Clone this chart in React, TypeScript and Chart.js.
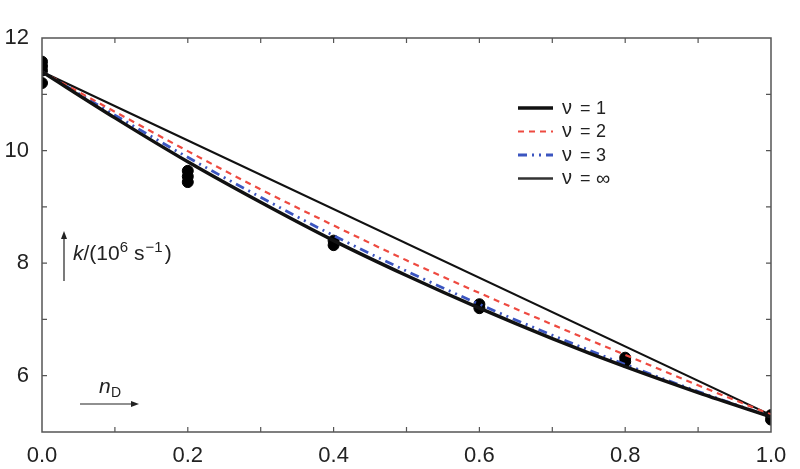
import React, { useEffect, useRef } from "react";
import { Chart, registerables } from "chart.js";

Chart.register(...registerables);

const xGrid = [0, 0.1, 0.2, 0.3, 0.4, 0.5, 0.6, 0.7, 0.8, 0.9, 1.0];
const nu1 = [11.4, 10.58, 9.8, 9.08, 8.4, 7.78, 7.2, 6.66, 6.16, 5.7, 5.27];
const nu2 = [11.4, 10.69, 9.99, 9.31, 8.67, 8.05, 7.47, 6.91, 6.37, 5.83, 5.31];
const nu3 = [11.4, 10.63, 9.88, 9.17, 8.49, 7.86, 7.27, 6.72, 6.2, 5.72, 5.27];
const nuInfX = [0, 1];
const nuInf = [11.4, 5.3];

const expX = [0, 0, 0, 0, 0.2, 0.2, 0.2, 0.4, 0.4, 0.6, 0.6, 0.8, 0.8, 1.0, 1.0];
const expY = [11.58, 11.5, 11.42, 11.2, 9.64, 9.54, 9.44, 8.4, 8.32, 7.27, 7.2, 6.32, 6.25, 5.3, 5.22];

const xTickLabels = ["0.0", "0.2", "0.4", "0.6", "0.8", "1.0"];
const yTickLabels = ["6", "8", "10", "12"];
const legendValues = ["1", "2", "3", "\u221e"];

const FONT = "'Liberation Sans', Arial, Helvetica, sans-serif";

const pts = (xs: number[], ys: number[]) => xs.map((x, i) => ({ x, y: ys[i] }));

const decorPlugin = {
  id: "decor",
  afterDraw(chart: any) {
    const ctx = chart.ctx;
    const { left, right, top, bottom } = chart.chartArea;
    const xs = chart.scales.x;
    const ys = chart.scales.y;
    ctx.save();
    // frame
    ctx.strokeStyle = "#555";
    ctx.lineWidth = 1.5;
    ctx.strokeRect(left, top, right - left, bottom - top);
    // inward ticks
    ctx.lineWidth = 1.2;
    ctx.beginPath();
    for (let i = 1; i < 10; i++) {
      const px = xs.getPixelForValue(i / 10);
      ctx.moveTo(px, bottom);
      ctx.lineTo(px, bottom - 5);
      ctx.moveTo(px, top);
      ctx.lineTo(px, top + 5);
    }
    for (let v = 6; v <= 11; v++) {
      const py = ys.getPixelForValue(v);
      ctx.moveTo(left, py);
      ctx.lineTo(left + 5, py);
      ctx.moveTo(right, py);
      ctx.lineTo(right - 5, py);
    }
    ctx.stroke();

    // legend
    const styles = [
      { color: "#111", width: 3.4, dash: [] as number[] },
      { color: "#ee4a40", width: 2.2, dash: [6, 5] },
      { color: "#3b55c0", width: 2.8, dash: [9, 5, 2, 5, 2, 5] },
      { color: "#333", width: 2.4, dash: [] as number[] },
    ];
    const lx0 = 518, lx1 = 553, ly0 = 108, dy = 23.5;
    ctx.textBaseline = "middle";
    legendValues.forEach((val, i) => {
      const y = ly0 + i * dy;
      const s = styles[i];
      ctx.strokeStyle = s.color;
      ctx.lineWidth = s.width;
      ctx.setLineDash(s.dash);
      ctx.beginPath();
      ctx.moveTo(lx0, y);
      ctx.lineTo(lx1, y);
      ctx.stroke();
      ctx.setLineDash([]);
      ctx.fillStyle = "#222";
      ctx.font = `20px ${FONT}`;
      ctx.fillText("\u03bd", 562, y);
      ctx.font = `18px ${FONT}`;
      ctx.fillText("=", 580, y + 1);
      ctx.font = (val === "\u221e" ? "20px " : "18px ") + FONT;
      ctx.fillText(val, 596, y + 1);
    });

    // y label with arrow
    ctx.strokeStyle = "#222";
    ctx.fillStyle = "#222";
    ctx.lineWidth = 1.2;
    ctx.beginPath();
    ctx.moveTo(64, 281);
    ctx.lineTo(64, 234);
    ctx.stroke();
    ctx.beginPath();
    ctx.moveTo(64, 231);
    ctx.lineTo(61, 239);
    ctx.lineTo(67, 239);
    ctx.closePath();
    ctx.fill();

    ctx.textBaseline = "alphabetic";
    let x = 73;
    const base = 260;
    ctx.font = `italic 21px ${FONT}`;
    ctx.fillText("k", x, base);
    x += ctx.measureText("k").width;
    ctx.font = `21px ${FONT}`;
    ctx.fillText("/(10", x, base);
    x += ctx.measureText("/(10").width;
    ctx.font = `15px ${FONT}`;
    ctx.fillText("6", x, base - 8);
    x += ctx.measureText("6").width + 6;
    ctx.font = `21px ${FONT}`;
    ctx.fillText("s", x, base);
    x += ctx.measureText("s").width + 1;
    ctx.font = `15px ${FONT}`;
    ctx.fillText("\u2212", x, base - 8);
    x += ctx.measureText("\u2212").width;
    ctx.fillText("1", x, base - 8);
    x += ctx.measureText("1").width + 2;
    ctx.font = `21px ${FONT}`;
    ctx.fillText(")", x, base);

    // x label with arrow
    ctx.font = `italic 21px ${FONT}`;
    ctx.fillText("n", 99, 393);
    ctx.font = `14px ${FONT}`;
    ctx.fillText("D", 111, 397);
    ctx.beginPath();
    ctx.moveTo(80, 404);
    ctx.lineTo(134, 404);
    ctx.stroke();
    ctx.beginPath();
    ctx.moveTo(139, 404);
    ctx.lineTo(131, 401);
    ctx.lineTo(131, 407);
    ctx.closePath();
    ctx.fill();
    ctx.restore();
  },
};

export default function App() {
  const ref = useRef<HTMLCanvasElement>(null);
  useEffect(() => {
    document.body.style.margin = "0";
    const chart = new Chart(ref.current!, {
      type: "line",
      data: {
        datasets: [
          {
            label: "v1",
            data: pts(xGrid, nu1),
            borderColor: "#111",
            borderWidth: 3.4,
            pointRadius: 0,
            cubicInterpolationMode: "monotone",
            order: 1,
          },
          {
            label: "v2",
            data: pts(xGrid, nu2),
            borderColor: "#ee4a40",
            borderWidth: 2.2,
            borderDash: [6, 5],
            pointRadius: 0,
            cubicInterpolationMode: "monotone",
            order: 1,
          },
          {
            label: "v3",
            data: pts(xGrid, nu3),
            borderColor: "#3b55c0",
            borderWidth: 2.8,
            borderDash: [9, 5, 2, 5, 2, 5],
            pointRadius: 0,
            cubicInterpolationMode: "monotone",
            order: 1,
          },
          {
            label: "vinf",
            data: pts(nuInfX, nuInf),
            borderColor: "#111",
            borderWidth: 2,
            pointRadius: 0,
            order: 1,
          },
          {
            label: "exp",
            data: pts(expX, expY),
            showLine: false,
            pointRadius: 5.5,
            pointBackgroundColor: "#000",
            pointBorderColor: "#000",
            borderColor: "#000",
            order: 10,
          },
        ],
      },
      options: {
        animation: false,
        responsive: false,
        devicePixelRatio: 1,
        layout: { padding: { top: 38, right: 29, left: 0, bottom: 0 } },
        plugins: { legend: { display: false }, tooltip: { enabled: false } },
        scales: {
          x: {
            type: "linear",
            min: 0,
            max: 1,
            grid: { display: false },
            border: { display: false },
            afterFit: (s: any) => {
              s.height = 37;
            },
            ticks: {
              stepSize: 0.2,
              padding: 3,
              color: "#222",
              font: { family: FONT, size: 22 },
              callback: (v: any) => {
                const i = Math.round(Number(v) * 5);
                return Math.abs(Number(v) * 5 - i) < 1e-6 ? xTickLabels[i] : "";
              },
              maxRotation: 0,
            },
          },
          y: {
            type: "linear",
            min: 5,
            max: 12,
            grid: { display: false },
            border: { display: false },
            afterFit: (s: any) => {
              s.width = 42;
            },
            ticks: {
              stepSize: 1,
              padding: 5,
              color: "#222",
              font: { family: FONT, size: 22 },
              callback: (v: any) => {
                const n = Number(v);
                const idx = yTickLabels.indexOf(String(n));
                return idx >= 0 ? yTickLabels[idx] : "";
              },
            },
          },
        },
      } as any,
      plugins: [decorPlugin],
    });
    return () => chart.destroy();
  }, []);
  return (
    <div style={{ position: "absolute", left: 0, top: 0, width: 800, height: 469 }}>
      <canvas ref={ref} width={800} height={469} style={{ width: 800, height: 469 }} />
    </div>
  );
}
